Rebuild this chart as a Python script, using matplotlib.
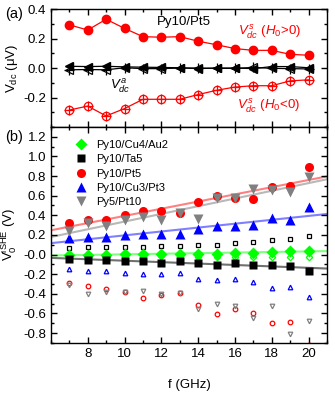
import numpy as np
import matplotlib
matplotlib.use('Agg')
import matplotlib.pyplot as plt
from matplotlib.ticker import MultipleLocator, FormatStrFormatter

plt.rcParams['font.family'] = ['Liberation Sans', 'DejaVu Sans']
plt.rcParams['mathtext.fontset'] = 'custom'
plt.rcParams['mathtext.rm'] = 'Liberation Sans'
plt.rcParams['mathtext.it'] = 'Liberation Sans:italic'
plt.rcParams['axes.unicode_minus'] = False
plt.rcParams['font.size'] = 9.5

# frequencies (GHz)
freq = np.arange(7, 21)

# panel (a): Py10/Pt5, V_dc in uV
vs_pos = [0.293, 0.258, 0.331, 0.269, 0.213, 0.209, 0.213, 0.182, 0.158,
          0.132, 0.120, 0.120, 0.093, 0.087]
vs_neg = [-0.285, -0.258, -0.325, -0.275, -0.212, -0.212, -0.212, -0.180,
          -0.151, -0.129, -0.120, -0.120, -0.087, -0.080]
va_pos = [0.012, 0.010, 0.012, 0.008, 0.006, 0.004, 0.002, -0.004, 0.0,
          0.0, -0.004, 0.010, 0.010, 0.002]
va_neg = [-0.012, -0.010, -0.012, 0.002, -0.004, -0.004, 0.0, 0.0, -0.002,
          -0.002, 0.004, -0.002, -0.004, -0.006]

# panel (b): V0^ISHE, filled = H0>0, open = H0<0
samples = ['Py10/Cu4/Au2', 'Py10/Ta5', 'Py10/Pt5', 'Py10/Cu3/Pt3', 'Py5/Pt10']
cuau_pos = [0.0, 0.0, 0.0, 0.005, 0.005, 0.005, 0.005, 0.01, 0.01, 0.015,
            0.02, 0.03, 0.035, 0.04]
cuau_neg = [-0.01, -0.01, -0.01, -0.01, -0.01, -0.012, -0.012, -0.02, -0.02,
            -0.025, -0.03, -0.025, -0.02, -0.02]
ta_pos = [-0.045, -0.055, -0.057, -0.065, -0.065, -0.085, -0.068, -0.09,
          -0.108, -0.091, -0.11, -0.11, -0.115, -0.17]
ta_neg = [0.068, 0.078, 0.078, 0.078, 0.078, 0.084, 0.084, 0.101, 0.101,
          0.118, 0.125, 0.152, 0.159, 0.186]
pt_pos = [0.321, 0.355, 0.355, 0.405, 0.446, 0.439, 0.422, 0.540, 0.598,
          0.574, 0.564, 0.692, 0.702, 0.895]
pt_neg = [-0.294, -0.321, -0.355, -0.382, -0.439, -0.415, -0.388, -0.517,
          -0.608, -0.550, -0.591, -0.699, -0.686, -0.92]
cupt_pos = [0.169, 0.179, 0.179, 0.203, 0.213, 0.213, 0.213, 0.263, 0.287,
            0.287, 0.297, 0.368, 0.355, 0.483]
cupt_neg = [-0.152, -0.169, -0.169, -0.186, -0.196, -0.196, -0.186, -0.253,
            -0.263, -0.253, -0.277, -0.338, -0.328, -0.432]
pt10_pos = [0.236, 0.321, 0.287, 0.355, 0.382, 0.355, 0.422, 0.361, 0.574,
            0.574, 0.665, 0.658, 0.642, 0.794]
pt10_neg = [-0.311, -0.405, -0.382, -0.382, -0.372, -0.405, -0.388, -0.557,
            -0.507, -0.523, -0.642, -0.523, -0.810, -0.676]

fig = plt.figure(figsize=(3.35, 3.95), dpi=100)
gs = fig.add_gridspec(2, 1, height_ratios=[118, 216], hspace=0,
                      left=0.152, right=0.976, top=0.977, bottom=0.132)
ax1 = fig.add_subplot(gs[0])
ax2 = fig.add_subplot(gs[1], sharex=ax1)

# ---- panel (a)
ax1.plot(freq, vs_pos, '-o', color='red', lw=0.9, ms=6)
ax1.plot(freq, vs_neg, '-o', color='red', lw=0.9, ms=6, mfc='none', mew=0.9)
ax1.plot(freq, vs_neg, '+', color='red', ms=7.5, mew=0.9)
ax1.plot(freq, va_pos, '-<', color='black', lw=0.9, ms=5.5)
ax1.plot(freq, va_neg, '-<', color='black', lw=0.9, ms=5.5, mfc='none', mew=0.9)
ax1.plot(freq, va_neg, '+', color='black', ms=7.5, mew=0.9)

ax1.text(13.2, 0.315, 'Py10/Pt5', ha='center', va='center', fontsize=9.5)
ax1.text(17.9, 0.24, r'$V_{dc}^{\,s}\ (H_0\!>\!0)$', color='red',
         ha='center', va='center', fontsize=9.5)
ax1.text(17.85, -0.26, r'$V_{dc}^{\,s}\ (H_0\!<\!0)$', color='red',
         ha='center', va='center', fontsize=9.5)
ax1.text(9.75, -0.125, r'$V_{dc}^{\,a}$', ha='center', va='center',
         fontsize=9.5)

ax1.set_ylim(-0.4, 0.4)
ax1.set_yticks([-0.2, 0.0, 0.2, 0.4])
ax1.yaxis.set_minor_locator(MultipleLocator(0.1))
ax1.yaxis.set_major_formatter(FormatStrFormatter('%.1f'))
ax1.set_ylabel('V$_{\\rm dc}$ (μV)', labelpad=2)
plt.setp(ax1.get_xticklabels(), visible=False)

# ---- panel (b)
colors = ['#00ff00', 'black', 'red', '#0000ff', 'gray']
markers = ['D', 's', 'o', '^', 'v']
sizes = [6, 5.5, 6.5, 7, 7]
pos_sets = [cuau_pos, ta_pos, pt_pos, cupt_pos, pt10_pos]
neg_sets = [cuau_neg, ta_neg, pt_neg, cupt_neg, pt10_neg]
fit_colors = ['#80ff80', '#707070', '#ff8080', '#8080ff', '#b8b8b8']

xfit = np.array([6, 21])
for i in range(len(samples)):
    p = np.polyfit(freq, pos_sets[i], 1)
    ax2.plot(xfit, np.polyval(p, xfit), color=fit_colors[i], lw=1.5, zorder=1)

for i in range(len(samples)):
    ax2.plot(freq, neg_sets[i], markers[i], color=colors[i], ms=3.3,
             mfc='none', mew=0.9, zorder=2)

for i in range(len(samples)):
    ax2.plot(freq, pos_sets[i], markers[i], color=colors[i], ms=sizes[i],
             mec='none', label=samples[i], zorder=3)

ax2.legend(loc='upper left', bbox_to_anchor=(0.07, 0.96), frameon=False,
           fontsize=8, handlelength=1.2, handletextpad=0.7,
           labelspacing=0.38, borderaxespad=0)

ax2.set_xlim(6, 21)
ax2.set_ylim(-0.9, 1.3)
ax2.set_yticks(np.arange(-0.8, 1.21, 0.2))
ax2.yaxis.set_minor_locator(MultipleLocator(0.1))
ax2.yaxis.set_major_formatter(FormatStrFormatter('%.1f'))
ax2.set_xticks(np.arange(8, 21, 2))
ax2.xaxis.set_minor_locator(MultipleLocator(1))
ax2.set_xlabel('f (GHz)', labelpad=14)
ax2.set_ylabel('V$_0^{\\rm iSHE}$ (V)', labelpad=2)

for ax in (ax1, ax2):
    ax.tick_params(which='both', direction='in', top=True, right=True)
    ax.tick_params(which='major', length=4, width=1)
    ax.tick_params(which='minor', length=2.5, width=1)
    for s in ax.spines.values():
        s.set_linewidth(1)

fig.text(0.015, 0.965, '(a)', fontsize=10.5, va='center')
fig.text(0.015, 0.653, '(b)', fontsize=10.5, va='center')

fig.savefig('out.png', dpi=100)
